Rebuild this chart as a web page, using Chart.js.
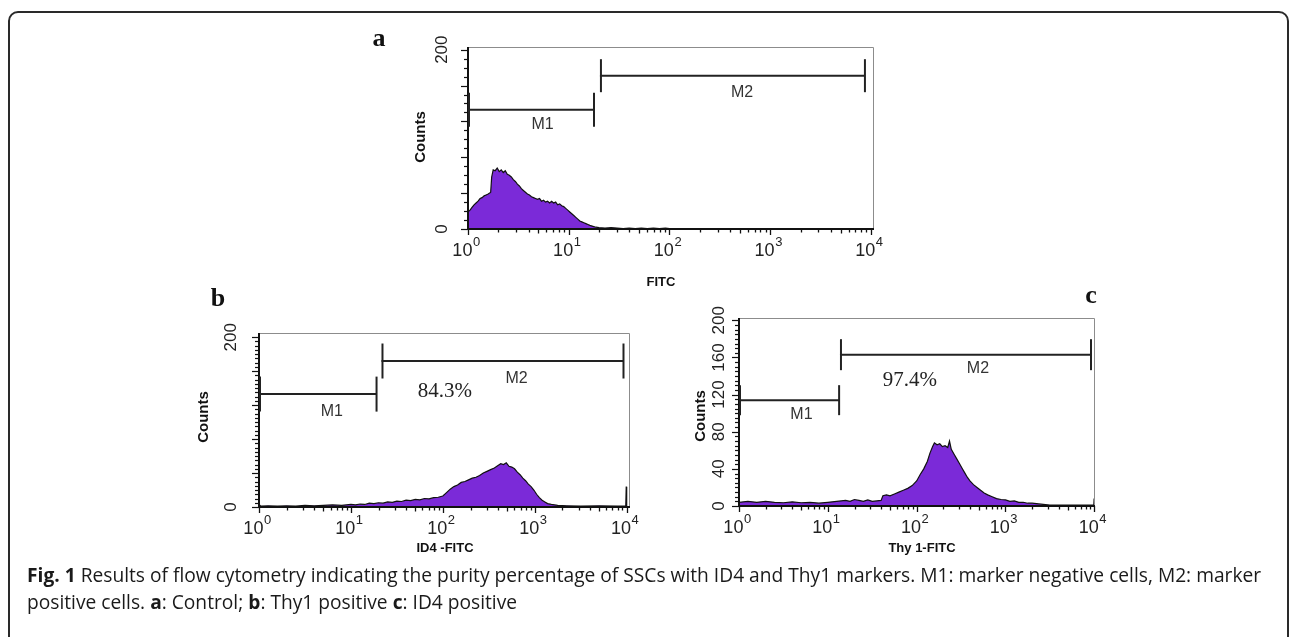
<!DOCTYPE html>
<html><head><meta charset="utf-8">
<script src="https://cdn.jsdelivr.net/npm/chart.js@4.4.1/dist/chart.umd.min.js"></script>
<style>
html,body{margin:0;padding:0;background:#fff;width:1290px;height:637px;overflow:hidden;position:relative;}
canvas{position:absolute;left:0;top:0;}
#frame{position:absolute;left:8px;top:11px;width:1281px;height:700px;border:2px solid #2a2a2a;border-radius:10px;box-sizing:border-box;}
#caption{position:absolute;left:27px;top:561px;font-family:"Open Sans",sans-serif;font-size:16px;line-height:27px;color:#1a1a1a;white-space:nowrap;}
#caption b{font-weight:700;}
</style></head>
<body>
<div id="frame"></div>
<canvas id="ca" width="1290" height="637"></canvas>
<canvas id="cb" width="1290" height="637"></canvas>
<canvas id="cc" width="1290" height="637"></canvas>
<div id="caption"></div>
<script>
// ---------------- data (x as log10 of FITC intensity, y = counts) ----------------
const histA = [[0,0],[0,110],[0,19],[0.02,21],[0.04,24],[0.06,27],[0.08,29],[0.10,31],[0.12,34],[0.14,35],[0.16,37],[0.18,38],[0.20,39],[0.215,40],[0.225,41],[0.235,58],[0.25,66],[0.27,65],[0.29,68],[0.31,64],[0.33,66],[0.35,63],[0.37,65],[0.39,61],[0.41,60],[0.43,58],[0.45,55],[0.47,53],[0.49,50],[0.51,48],[0.53,45],[0.55,43],[0.57,41],[0.59,39],[0.61,38],[0.63,36],[0.65,35],[0.67,34],[0.69,33],[0.71,34],[0.73,31],[0.75,32],[0.77,30],[0.79,31],[0.81,29],[0.83,31],[0.85,29],[0.87,30],[0.89,27],[0.91,28],[0.93,26],[0.95,25],[0.97,23],[0.99,21],[1.01,19],[1.03,17],[1.05,15],[1.07,13],[1.09,11],[1.11,9],[1.13,8],[1.15,7],[1.17,6],[1.19,5],[1.21,4],[1.24,3],[1.27,2],[1.30,1.5],[1.36,1],[1.42,1.5],[1.48,1],[1.54,0.5],[1.60,1],[1.66,0.5],[1.72,1],[1.78,0.5],[1.84,1],[1.90,0.5],[1.96,1],[2.00,0.5],[2.02,0],[4.0,0]];
const histB = [[0,0],[0,3],[0.02,1],[0.1,1.5],[0.2,1],[0.3,1.5],[0.4,1],[0.5,2],[0.6,1.5],[0.7,2],[0.8,2.5],[0.9,2],[1.0,3],[1.05,2.5],[1.1,3.5],[1.15,3],[1.2,4.5],[1.25,4],[1.3,5],[1.35,4.5],[1.4,6],[1.45,5.5],[1.5,7],[1.55,6.5],[1.6,8],[1.65,7.5],[1.7,9],[1.75,8.5],[1.8,10],[1.85,9.5],[1.9,11],[1.95,11.5],[2.0,13],[2.04,17],[2.08,21],[2.12,24],[2.16,26],[2.2,29],[2.24,30],[2.28,32],[2.32,34],[2.36,35],[2.4,37],[2.44,40],[2.48,42],[2.52,44],[2.56,46],[2.6,49],[2.63,51],[2.66,50],[2.69,52],[2.72,48],[2.75,47],[2.78,45],[2.81,41],[2.84,38],[2.87,34],[2.9,31],[2.93,27],[2.96,24],[2.99,20],[3.02,15],[3.05,11],[3.08,8],[3.11,6],[3.14,4],[3.18,3],[3.25,2],[3.35,1.5],[3.5,1],[3.7,1.5],[3.9,1],[3.99,1],[3.995,24],[4.0,24],[4.0,0]];
const histC = [[0,0],[0,83],[0.005,4],[0.1,5],[0.2,4],[0.3,5],[0.4,4],[0.5,3.5],[0.6,4.5],[0.7,3.5],[0.8,4],[0.9,3],[1.0,4],[1.1,5],[1.2,6],[1.25,5],[1.3,7],[1.35,6],[1.4,5],[1.45,6.5],[1.5,5],[1.55,5.5],[1.6,6],[1.62,11],[1.66,12],[1.7,11],[1.75,13],[1.8,15],[1.85,17],[1.9,19],[1.95,22],[2.0,27],[2.04,34],[2.08,40],[2.12,48],[2.15,57],[2.18,64],[2.2,68],[2.23,66],[2.26,67],[2.29,64],[2.32,65],[2.35,63],[2.37,70],[2.39,61],[2.42,56],[2.45,51],[2.48,46],[2.51,41],[2.54,36],[2.57,31],[2.6,27],[2.64,23],[2.68,20],[2.72,17],[2.76,14],[2.8,12],[2.85,10],[2.9,8],[2.95,7],[3.0,6.5],[3.05,5],[3.1,5.5],[3.15,4],[3.2,4],[3.25,3],[3.3,3],[3.4,2],[3.5,1],[3.7,1],[3.9,1],[3.995,1],[3.998,8],[4.0,8],[4.0,0]];

// gates [start, end, level] in FITC units / counts
const gatesA = {M1:[1, 17.8, 133], M2:[20.4, 8710, 171]};
const gatesB = {M1:[1, 19, 133], M2:[21.5, 9230, 172]};
const gatesC = {M1:[1, 13.4, 114], M2:[13.7, 9180, 163]};
const pctB = '84.3%';
const pctC = '97.4%';

const decadeExps = [0,1,2,3,4];
const yTicksAB = [0,200];
const yTicksC = [0,40,80,120,160,200];
const xTitles = ['FITC','ID4 -FITC','Thy 1-FITC'];
const panelLetters = ['a','b','c'];
const captionLine1 = '<b>Fig. 1</b> Results of flow cytometry indicating the purity percentage of SSCs with ID4 and Thy1 markers. M1: marker negative cells, M2: marker';
const captionLine2 = 'positive cells. <b>a</b>: Control; <b>b</b>: Thy1 positive <b>c</b>: ID4 positive';

// ---------------- panels ----------------
const panels = [
 {id:'ca', hist:histA, gates:gatesA, area:{l:468,t:47,r:874,b:229}, xMaxLog:4.03, yMax:203, yTicks:yTicksAB, minorStep:10,
  yLabX:442, title:xTitles[0], titleX:661, titleY:282, countsX:421, countsY:137,
  letter:panelLetters[0], letX:379, letY:39, gh:{M1:17,M2:16.5},
  gl:{M1:[5.5,117], M2:[525,152]}, pct:null},
 {id:'cb', hist:histB, gates:gatesB, area:{l:259,t:333,r:630,b:507}, xMaxLog:4.036, yMax:205, yTicks:yTicksAB, minorStep:5,
  yLabX:231, title:xTitles[1], titleX:445, titleY:548, countsX:204, countsY:417,
  letter:panelLetters[1], letX:218, letY:299, gh:{M1:17.5,M2:17.5},
  gl:{M1:[6.2,112], M2:[633,151]}, pct:[pctB,105,136]},
 {id:'cc', hist:histC, gates:gatesC, area:{l:739,t:318,r:1095,b:506}, xMaxLog:4.008, yMax:202.5, yTicks:yTicksC, minorStep:5,
  yLabX:719, title:xTitles[2], titleX:922, titleY:548, countsX:701, countsY:416,
  letter:panelLetters[2], letX:1091, letY:296, gh:{M1:15,M2:15.5},
  gl:{M1:[5.05,98], M2:[490,148]}, pct:[pctC,84,135.5]}
];

function seg(ctx,x1,y1,x2,y2){ctx.beginPath();ctx.moveTo(x1,y1);ctx.lineTo(x2,y2);ctx.stroke();}
const SANS='"Liberation Sans", Arial, sans-serif';
const SERIF='"Liberation Serif", "Times New Roman", serif';

function flowPlugin(p){
 return {id:'flow_'+p.id, afterDatasetsDraw(chart){
  const ctx=chart.ctx, xs=chart.scales.x, ys=chart.scales.y, A=chart.chartArea;
  ctx.save();
  // box (top/right thin grey)
  ctx.strokeStyle='#8c8c8c'; ctx.lineWidth=1;
  ctx.beginPath(); ctx.moveTo(A.left,A.top+0.5); ctx.lineTo(A.right-0.5,A.top+0.5); ctx.lineTo(A.right-0.5,A.bottom); ctx.stroke();
  // axes
  ctx.strokeStyle='#111'; ctx.lineWidth=2;
  ctx.beginPath(); ctx.moveTo(A.left,A.top); ctx.lineTo(A.left,A.bottom); ctx.lineTo(A.right,A.bottom); ctx.stroke();
  // x ticks
  ctx.lineWidth=1.3;
  decadeExps.forEach(d=>{
    for(let m=1;m<=9;m++){
      const v=m*Math.pow(10,d); if(v>1e4) break;
      const x=Math.round(xs.getPixelForValue(v))+0.5;
      const len = m===1?6:(m===5?4.5:3.5);
      seg(ctx,x,A.bottom,x,A.bottom+len);
    }
  });
  // x labels (10 with raised exponent)
  ctx.fillStyle='#222'; ctx.textBaseline='middle';
  decadeExps.forEach(d=>{
    const x=xs.getPixelForValue(Math.pow(10,d));
    ctx.font='18px '+SANS;
    const w1=ctx.measureText('10').width;
    ctx.font='13px '+SANS;
    const w2=ctx.measureText(String(d)).width;
    const x0=x-(w1+w2)/2-2;
    ctx.font='18px '+SANS; ctx.textAlign='left';
    ctx.fillText('10',x0,A.bottom+22);
    ctx.font='13px '+SANS;
    ctx.fillText(String(d),x0+w1+0.5,A.bottom+13);
  });
  // y ticks
  ctx.strokeStyle='#111'; ctx.lineWidth=1.2;
  for(let v=0; v<=200; v+=p.minorStep){
    const y=Math.round(ys.getPixelForValue(v))+0.5;
    const len = (v%40===0)?7:4;
    seg(ctx,A.left-len,y,A.left,y);
  }
  // y labels rotated
  ctx.font='17px '+SANS; ctx.textAlign='center'; ctx.textBaseline='middle'; ctx.fillStyle='#222';
  p.yTicks.forEach(v=>{
    const y=ys.getPixelForValue(v);
    ctx.save(); ctx.translate(p.yLabX,y); ctx.rotate(-Math.PI/2); ctx.fillText(String(v),0,0); ctx.restore();
  });
  // Counts
  ctx.font='bold 15px '+SANS; ctx.fillStyle='#111';
  ctx.save(); ctx.translate(p.countsX,p.countsY); ctx.rotate(-Math.PI/2); ctx.fillText('Counts',0,0); ctx.restore();
  // x title
  ctx.font='bold 13px '+SANS;
  ctx.fillText(p.title,p.titleX,p.titleY);
  // panel letter
  ctx.font='bold 26px '+SERIF;
  ctx.fillText(p.letter,p.letX,p.letY);
  // gates
  ctx.strokeStyle='#222'; ctx.lineWidth=2;
  Object.keys(p.gates).forEach(k=>{
    const g=p.gates[k], h=p.gh[k];
    const x1=xs.getPixelForValue(g[0]), x2=xs.getPixelForValue(g[1]), y=ys.getPixelForValue(g[2]);
    seg(ctx,x1,y,x2,y); seg(ctx,x1+1,y-h,x1+1,y+h); seg(ctx,x2,y-h,x2,y+h);
    ctx.font='16px '+SANS; ctx.fillStyle='#333';
    ctx.fillText(k, xs.getPixelForValue(p.gl[k][0]), ys.getPixelForValue(p.gl[k][1]));
  });
  if(p.pct){
    ctx.font='21px '+SERIF; ctx.fillStyle='#222';
    ctx.fillText(p.pct[0], xs.getPixelForValue(p.pct[1]), ys.getPixelForValue(p.pct[2]));
  }
  ctx.restore();
 }};
}

panels.forEach(p=>{
  new Chart(document.getElementById(p.id), {
    type:'line',
    data:{datasets:[{
      data:p.hist.map(h=>({x:Math.pow(10,h[0]), y:h[1]})),
      borderColor:'#111', borderWidth:1.2, backgroundColor:'#7b2ad8', fill:'origin',
      pointRadius:0, tension:0, clip:3
    }]},
    options:{
      responsive:false, animation:false, events:[],
      layout:{padding:{left:p.area.l, top:p.area.t, right:1290-p.area.r, bottom:637-p.area.b}},
      plugins:{legend:{display:false}, tooltip:{enabled:false}},
      scales:{
        x:{type:'logarithmic', min:1, max:Math.pow(10,p.xMaxLog), display:false},
        y:{type:'linear', min:0, max:p.yMax, display:false}
      }
    },
    plugins:[flowPlugin(p)]
  });
});

// caption, line 1 fitted to the reference width
const cap=document.getElementById('caption');
cap.innerHTML='<span id="l1">'+captionLine1+'</span><br>'+captionLine2;
const w=document.getElementById('l1').getBoundingClientRect().width;
cap.style.fontSize=(16*1235/w).toFixed(2)+'px';
</script>
</body></html>
